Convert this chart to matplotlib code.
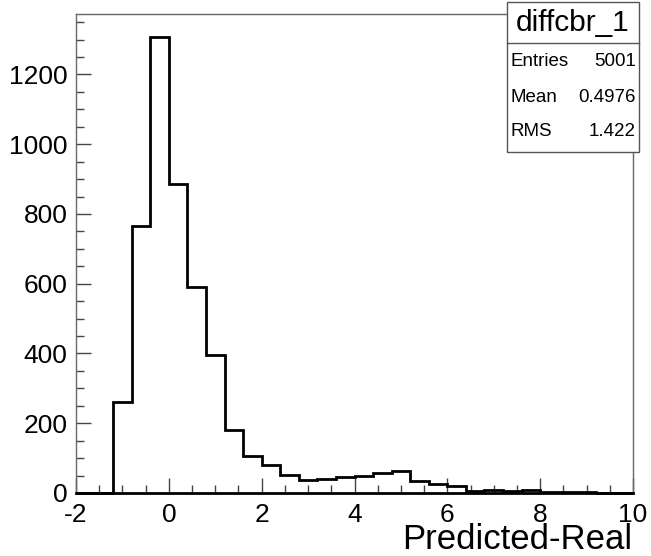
import matplotlib

matplotlib.use("Agg")
import matplotlib.pyplot as plt  # noqa: E402
import numpy as np  # noqa: E402
from matplotlib.patches import Rectangle  # noqa: E402
from matplotlib.lines import Line2D  # noqa: E402
from matplotlib.ticker import MultipleLocator  # noqa: E402

plt.rcParams["font.family"] = ["Liberation Sans", "DejaVu Sans"]
plt.rcParams["axes.unicode_minus"] = False

# histogram: 30 bins from -2 to 10
x_min, x_max, n_bins = -2.0, 10.0, 30
counts = [
    0, 0, 261, 766, 1308, 885, 591, 395, 180, 106,
    80, 52, 37, 40, 47, 50, 56, 63, 35, 26,
    21, 5, 9, 5, 9, 4, 3, 3, 1, 0,
]
hist_name = "diffcbr_1"
stat_names = ["Entries", "Mean", "RMS"]
stat_values = ["5001", "0.4976", "1.422"]
x_title = "Predicted-Real"

W, H = 651, 556
fig = plt.figure(figsize=(W / 100, H / 100), dpi=100)
ax = fig.add_axes([76 / W, 1 - 493 / H, (633 - 76) / W, (493 - 14) / H])

edges = np.linspace(x_min, x_max, n_bins + 1)
ax.stairs(counts, edges, color="black", linewidth=2, clip_on=False, zorder=3)

ax.set_xlim(x_min, x_max)
ax.set_ylim(0, 1.05 * max(counts))

ax.xaxis.set_major_locator(MultipleLocator(2))
ax.xaxis.set_minor_locator(MultipleLocator(0.5))
ax.yaxis.set_major_locator(MultipleLocator(200))
ax.yaxis.set_minor_locator(MultipleLocator(50))

ax.tick_params(which="both", direction="in", top=False, right=False,
               color="#444444", width=1, labelsize=19)
ax.tick_params(which="major", length=11)
ax.tick_params(which="minor", length=5.5)
ax.tick_params(axis="x", pad=7)
ax.tick_params(axis="y", pad=6)

for side in ["top", "right", "left"]:
    ax.spines[side].set_color("#666666")
    ax.spines[side].set_linewidth(1)
ax.spines["bottom"].set_color("black")
ax.spines["bottom"].set_linewidth(2)

fig.text(632 / W, 1 - 549 / H, x_title, ha="right", va="baseline", fontsize=25)

# stats box
def fx(px):
    return px / W


def fy(py):
    return 1 - py / H


box_l, box_r, box_t, box_b, box_sep = 507, 639, 2, 152, 43
fig.patches.append(Rectangle((fx(box_l), fy(box_b)), fx(box_r) - fx(box_l),
                             fy(box_t) - fy(box_b), transform=fig.transFigure,
                             facecolor="white", edgecolor="#555555",
                             linewidth=1, zorder=5))
fig.lines.append(Line2D([fx(box_l), fx(box_r)], [fy(box_sep), fy(box_sep)],
                        transform=fig.transFigure, color="#555555",
                        linewidth=1, zorder=6))
fig.text(fx((box_l + box_r) / 2), fy(23), hist_name, ha="center", va="center",
         fontsize=21.5, zorder=7)
row_y = [61, 97, 132]
for name, val, yy in zip(stat_names, stat_values, row_y):
    fig.text(fx(511), fy(yy), name, ha="left", va="center", fontsize=13.5, zorder=7)
    fig.text(fx(636), fy(yy), val, ha="right", va="center", fontsize=13.5, zorder=7)

fig.savefig("out.png", dpi=100)
plt.close(fig)
